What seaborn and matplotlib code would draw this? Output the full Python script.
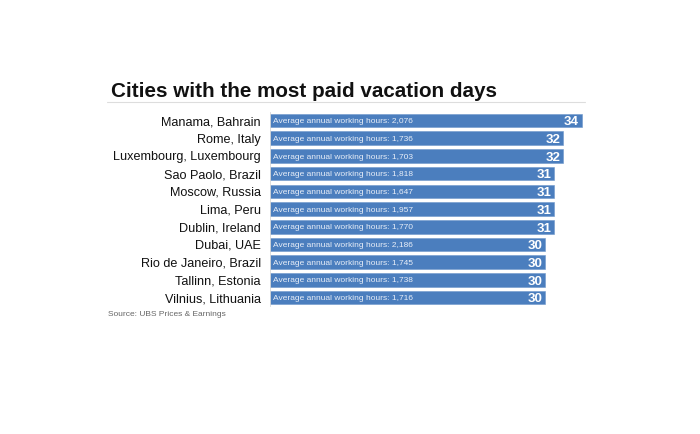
import matplotlib
matplotlib.use("Agg")
import matplotlib.pyplot as plt
import seaborn as sns
import pandas as pd

cities = ["Manama, Bahrain", "Rome, Italy", "Luxembourg, Luxembourg", "Sao Paolo, Brazil",
          "Moscow, Russia", "Lima, Peru", "Dublin, Ireland", "Dubai, UAE",
          "Rio de Janeiro, Brazil", "Tallinn, Estonia", "Vilnius, Lithuania"]
vacation_days = [34, 32, 32, 31, 31, 31, 31, 30, 30, 30, 30]
working_hours = ["2,076", "1,736", "1,703", "1,818", "1,647", "1,957", "1,770",
                 "2,186", "1,745", "1,738", "1,716"]
title = "Cities with the most paid vacation days"
source = "Source: UBS Prices & Earnings"

sns.set_theme(style="white")
plt.rcParams["font.family"] = ["Liberation Sans", "DejaVu Sans"]

df = pd.DataFrame({"city": cities, "days": vacation_days, "hours": working_hours})

fig = plt.figure(figsize=(7, 4.34), dpi=100)
ax = fig.add_axes([270 / 700, 1 - 306.4 / 434, 321 / 700, 194.7 / 434])

bar_color = "#4b7ebe"
sns.barplot(data=df, y="city", x="days", orient="h", color=bar_color,
            width=0.77, saturation=1, ax=ax, edgecolor="#6f97cb", linewidth=0.4)

ax.set_xlim(0, 35)
ax.set_ylim(10.5, -0.5)
ax.set_xlabel("")
ax.set_ylabel("")
ax.set_xticks([])
ax.tick_params(axis="y", length=0, pad=6.5, labelsize=9.1, labelcolor="#111111")
for s in ["top", "right", "bottom"]:
    ax.spines[s].set_visible(False)
ax.spines["left"].set_color("#d8d8d8")
ax.spines["left"].set_linewidth(0.6)

for i, (d, h) in enumerate(zip(vacation_days, working_hours)):
    ax.text(0.35, i + 0.06, f"Average annual working hours: {h}", color="#e8eef8",
            fontsize=6, va="center", ha="left")
    ax.text(d - 0.3, i + 0.1, str(d), color="white", fontsize=9.5,
            fontweight="bold", va="center", ha="right")

fig.text(111 / 700, 1 - 96.7 / 434, title, fontsize=14.9, fontweight="bold",
         color="#111111", ha="left", va="baseline")
fig.add_artist(plt.Line2D([107 / 700, 585 / 700], [1 - 102 / 434, 1 - 102 / 434],
                          color="#dddddd", linewidth=0.8, transform=fig.transFigure))
fig.text(108 / 700, 1 - 314 / 434, source, fontsize=6, color="#666666",
         ha="left", va="center")

fig.savefig("out.png", dpi=100, facecolor="white")
